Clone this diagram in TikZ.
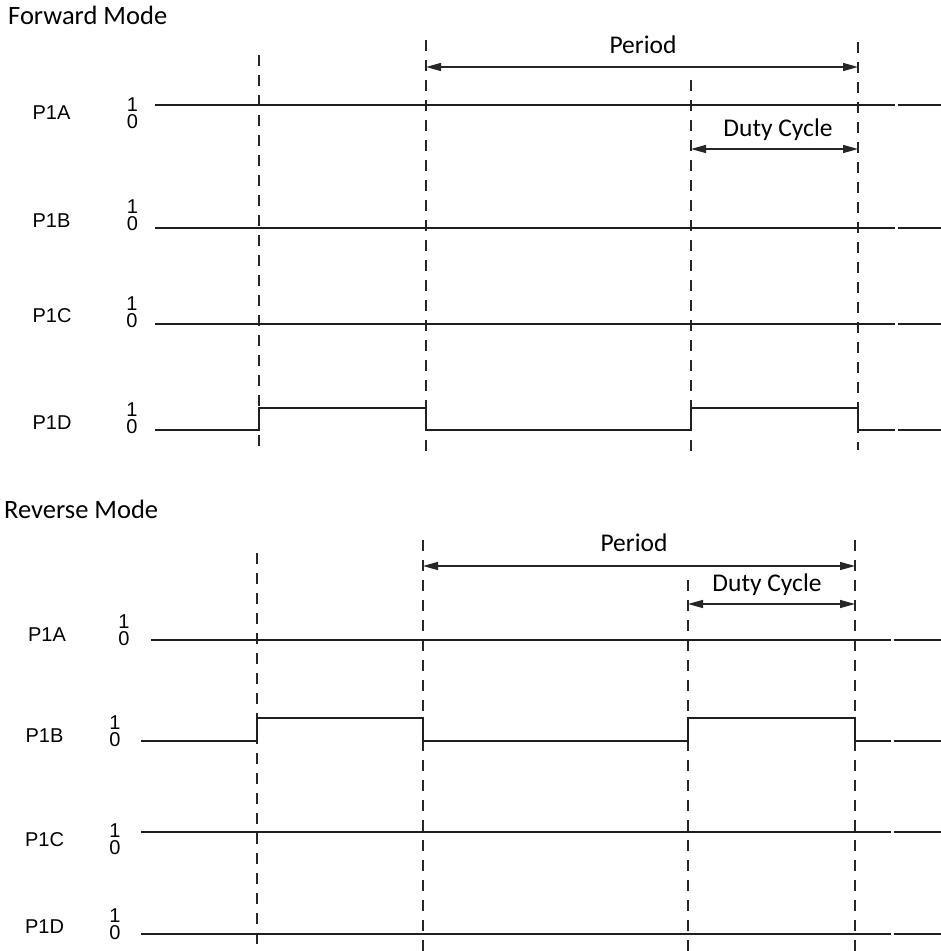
\documentclass[tikz,border=0pt]{standalone}
\usepackage{fontspec}
\setmainfont{Carlito}
\newfontfamily\arialf{Liberation Sans}
\usetikzlibrary{arrows.meta}
\begin{document}
\begin{tikzpicture}[x=1pt,y=-1pt,
  sig/.style={line width=1.6pt, draw=black!88},
  guide/.style={line width=1.3pt, dash pattern=on 11pt off 9pt, draw=black!85},
  dim/.style={line width=1.3pt, draw=black!85,
    {Triangle[length=15pt,width=8pt]}-{Triangle[length=15pt,width=8pt]}},
  ttl/.style={font=\fontsize{26.5}{30}\selectfont, inner sep=0pt, anchor=base west},
  dlab/.style={font=\fontsize{25.5}{30}\selectfont, inner sep=0pt, anchor=base},
  plab/.style={font=\arialf\fontsize{20}{24}\selectfont, inner sep=0pt},
  dig/.style={font=\arialf\fontsize{20}{17}\selectfont, inner sep=0pt, align=center}]
\useasboundingbox (0,0) rectangle (941,951);
\fill[white] (0,0) rectangle (941,951);

% ---------------- Forward mode ----------------
\node[ttl] (fwd) at (8,24) {Forward Mode};

\node[plab] (fA) at (51.5,112.5) {P1A};
\node[dig] (fAd) at (132.5,113) {1\\0};
\node[plab] (fB) at (51.5,220.5) {P1B};
\node[dig] (fBd) at (132.5,215) {1\\0};
\node[plab] (fC) at (52,315.5) {P1C};
\node[dig] (fCd) at (132,312) {1\\0};
\node[plab] (fD) at (52,422.5) {P1D};
\node[dig] (fDd) at (132,418.5) {1\\0};

% guides
\coordinate (f1t) at (259,55);  \coordinate (f1b) at (259,455);
\coordinate (f2t) at (426,40);  \coordinate (f2b) at (426,453);
\coordinate (f3t) at (691,80);  \coordinate (f3b) at (691,455);
\coordinate (f4t) at (858,42);  \coordinate (f4b) at (858,450);
\draw[guide] (f1t) -- (f1b);
\draw[guide] (f2t) -- (f2b);
\draw[guide] (f3t) -- (f3b);
\draw[guide] (f4t) -- (f4b);

% signals
\draw[sig] (155,105) -- (895,105);  \draw[sig] (897.5,105) -- (941,105);
\draw[sig] (155,228) -- (895,228);  \draw[sig] (897.5,228) -- (941,228);
\draw[sig] (155,324) -- (895,324);  \draw[sig] (897.5,324) -- (941,324);
\draw[sig] (155,430) -| (259,408) -| (426,430) -| (691,408) -| (858,430) -- (895,430);
\draw[sig] (897.5,430) -- (941,430);

% dimensions
\coordinate (fp1) at (426,67);  \coordinate (fp2) at (858,67);
\coordinate (fd1) at (691,149); \coordinate (fd2) at (858,149);
\draw[dim] (fp1) -- (fp2);
\draw[dim] (fd1) -- (fd2);
\node[dlab] (fper) at (643,53) {Period};
\node[dlab] (fduty) at (778,136.5) {Duty Cycle};

% ---------------- Reverse mode ----------------
\node[ttl] (rev) at (4,518) {Reverse Mode};

\node[plab] (rA) at (47,635) {P1A};
\node[dig] (rAd) at (124,630.5) {1\\0};
\node[plab] (rB) at (44.5,736) {P1B};
\node[dig] (rBd) at (115,731.5) {1\\0};
\node[plab] (rC) at (44.5,840) {P1C};
\node[dig] (rCd) at (115,839) {1\\0};
\node[plab] (rD) at (44.5,926.5) {P1D};
\node[dig] (rDd) at (115,924.5) {1\\0};

% guides
\coordinate (r1t) at (257,553); \coordinate (r1b) at (257,951);
\coordinate (r2t) at (423,540); \coordinate (r2b) at (423,951);
\coordinate (r3t) at (688,580); \coordinate (r3b) at (688,951);
\coordinate (r4t) at (855,540); \coordinate (r4b) at (855,951);
\draw[guide] (r1t) -- (r1b);
\draw[guide] (r2t) -- (r2b);
\draw[guide] (r3t) -- (r3b);
\draw[guide] (r4t) -- (r4b);

% signals
\draw[sig] (150.5,640) -- (891,640);  \draw[sig] (893.5,640) -- (941,640);
\draw[sig] (141,741) -| (257,718) -| (423,741) -| (688,718) -| (855,741) -- (891,741);
\draw[sig] (893.5,741) -- (941,741);
\draw[sig] (141,832) -- (891,832);  \draw[sig] (893.5,832) -- (941,832);
\draw[sig] (141,934) -- (891,934);  \draw[sig] (893.5,934) -- (941,934);

% dimensions
\coordinate (rp1) at (423,566); \coordinate (rp2) at (855,566);
\coordinate (rd1) at (688,604); \coordinate (rd2) at (855,604);
\draw[dim] (rp1) -- (rp2);
\draw[dim] (rd1) -- (rd2);
\node[dlab] (rper) at (634,551.5) {Period};
\node[dlab] (rduty) at (767,591.5) {Duty Cycle};
\end{tikzpicture}
\end{document}
